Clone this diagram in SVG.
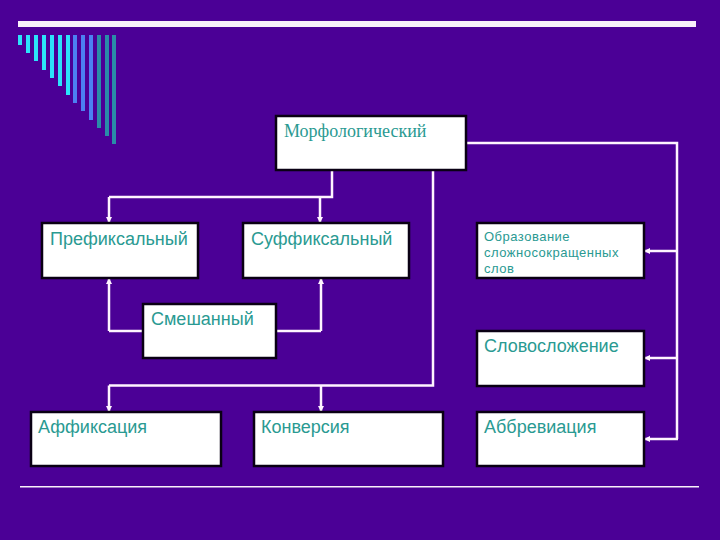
<svg xmlns="http://www.w3.org/2000/svg" width="720" height="540" viewBox="0 0 720 540">
<defs>
<marker id="ah" markerWidth="6" markerHeight="6" refX="5" refY="3" orient="auto" markerUnits="userSpaceOnUse">
<path d="M0,0 L6,3 L0,6 Z" fill="#FFF4FF"/>
</marker>
<style>
.box{fill:#FFFFFF;stroke:#0A0014;stroke-width:2.5}
.t{font-family:"Liberation Sans",Arial,sans-serif;font-size:18px;fill:#2A9A92}
.ts{font-family:"Liberation Sans",Arial,sans-serif;font-size:13px;letter-spacing:0.5px;fill:#2A9A92}
.tr{font-family:"Liberation Serif","Times New Roman",serif;font-size:18px;fill:#2A9A92}
.c{fill:none;stroke:#FFF4FF;stroke-width:2.5}
.ca{fill:none;stroke:#FFF4FF;stroke-width:2.5;marker-end:url(#ah)}
.cy{fill:#2CE4FA}
.bl{fill:#4C80F2}
.te{fill:#2A8CA8}
</style>
</defs>
<rect x="0" y="0" width="720" height="540" fill="#4B0096"/>
<g id="decor">
<rect x="18" y="21" width="678" height="6" fill="#F8F0FA"/>
<rect class="cy" x="18" y="35" width="4" height="10"/>
<rect class="cy" x="26" y="35" width="4" height="18"/>
<rect class="cy" x="34" y="35" width="4" height="26"/>
<rect class="cy" x="42" y="35" width="4" height="35"/>
<rect class="cy" x="50" y="35" width="4" height="43"/>
<rect class="cy" x="58" y="35" width="4" height="51"/>
<rect class="cy" x="66" y="35" width="4" height="60"/>
<rect class="bl" x="73" y="35" width="4" height="68"/>
<rect class="bl" x="81" y="35" width="4" height="76"/>
<rect class="bl" x="89" y="35" width="4" height="85"/>
<rect class="te" x="97" y="35" width="4" height="93"/>
<rect class="te" x="105" y="35" width="4" height="101"/>
<rect class="te" x="112" y="35" width="4" height="109"/>
<rect x="20" y="486" width="679" height="1.5" fill="#F8F0FA"/>
</g>
<g id="connectors">
<path class="c" d="M332,170 V197 H109"/>
<path class="ca" d="M109,197 V222"/>
<path class="ca" d="M320,197 V222"/>
<path class="c" d="M143,331 H109"/>
<path class="ca" d="M109,331 V279"/>
<path class="c" d="M276,331 H321"/>
<path class="ca" d="M321,331 V279"/>
<path class="c" d="M433,170 V385.5 H109"/>
<path class="ca" d="M109,385.5 V411"/>
<path class="ca" d="M321,385.5 V411"/>
<path class="c" d="M466,143 H677 V439"/>
<path class="ca" d="M677,251 H645"/>
<path class="ca" d="M677,358 H645"/>
<path class="ca" d="M678,439 H645"/>
</g>
<g id="morf">
<rect class="box" x="276" y="116" width="190" height="54"/>
<text class="tr" x="284" y="137">Морфологический</text>
</g>
<g id="pref">
<rect class="box" x="42" y="223" width="156" height="55"/>
<text class="t" x="50" y="245">Префиксальный</text>
</g>
<g id="suff">
<rect class="box" x="243" y="223" width="166" height="55"/>
<text class="t" x="251" y="245">Суффиксальный</text>
</g>
<g id="obraz">
<rect class="box" x="477" y="223" width="167" height="55"/>
<text class="ts" x="484" y="241">Образование</text>
<text class="ts" x="484" y="257">сложносокращенных</text>
<text class="ts" x="484" y="273">слов</text>
</g>
<g id="smesh">
<rect class="box" x="143" y="304" width="133" height="54"/>
<text class="t" x="151" y="325">Смешанный</text>
</g>
<g id="slovo">
<rect class="box" x="477" y="331" width="167" height="55"/>
<text class="t" x="484" y="352">Словосложение</text>
</g>
<g id="affix">
<rect class="box" x="31" y="412" width="190" height="54"/>
<text class="t" x="38" y="433">Аффиксация</text>
</g>
<g id="konv">
<rect class="box" x="254" y="412" width="189" height="54"/>
<text class="t" x="261" y="433">Конверсия</text>
</g>
<g id="abbr">
<rect class="box" x="477" y="412" width="167" height="54"/>
<text class="t" x="484" y="433">Аббревиация</text>
</g>
</svg>
